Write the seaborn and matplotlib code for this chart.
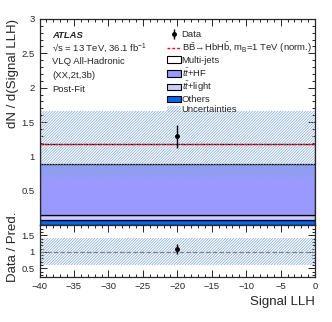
import numpy as np
import pandas as pd
import matplotlib
matplotlib.use("Agg")
import matplotlib.pyplot as plt
import seaborn as sns
from matplotlib.patches import Patch
from matplotlib.lines import Line2D

# single bin, signal LLH
bin_edges = [-40, 0]
bin_center = -20

processes = ["Multi-jets", "$t\\bar{t}$+HF", "$t\\bar{t}$+light", "Others"]
yields = [0.29, 0.74, 0.08, 0.07]
colors = ["white", "#9999ff", "#ccccff", "#0a64f0"]

rel_unc = 0.41
data_val = 1.29
data_err = 0.17

sns.set_style("ticks")
plt.rcParams["font.family"] = ["Liberation Sans", "DejaVu Sans"]
plt.rcParams["mathtext.fontset"] = "custom"
plt.rcParams["mathtext.rm"] = "Liberation Sans"
plt.rcParams["mathtext.it"] = "Liberation Sans:italic"
plt.rcParams["hatch.linewidth"] = 0.5
hatch_col = "#80a8d8"
hatch = "/" * 12

df = pd.DataFrame({"x": [bin_center] * len(processes), "w": yields, "proc": processes})
total = sum(yields)
signal_norm = total

fig = plt.figure(figsize=(3.32, 3.22), dpi=100)
ax = fig.add_axes([0.119, 0.301, 0.830, 0.640])
rax = fig.add_axes([0.119, 0.140, 0.830, 0.161], sharex=ax)

sns.histplot(data=df, x="x", weights="w", hue="proc", hue_order=processes,
             multiple="stack", bins=bin_edges, palette=colors, alpha=1,
             edgecolor="black", linewidth=0.9, legend=False, ax=ax)

# uncertainty band
ax.fill_between(bin_edges, total * (1 - rel_unc), total * (1 + rel_unc), step="post",
                facecolor="none", edgecolor=hatch_col, hatch=hatch, linewidth=0)
ax.plot(bin_edges, [signal_norm, signal_norm], color="red", ls=(0, (2, 1.5)), lw=1)
data_h = ax.errorbar([bin_center], [data_val], yerr=[data_err], fmt="o", color="black",
                     ms=2.5, elinewidth=1, capsize=0)

ax.set_xlim(-40, 0)
ax.set_ylim(0, 3)
ax.set_ylabel("dN / d(Signal LLH)", fontsize=9.5, loc="top")
ax.yaxis.set_label_coords(-0.074, 1.0)
ax.set_xlabel("")
ax.tick_params(labelbottom=False)

# text block
tkw = dict(transform=ax.transAxes, fontsize=6.8, va="center")
ax.text(0.045, 0.922, "ATLAS", fontweight="bold", fontstyle="italic", **tkw)
ax.text(0.045, 0.858, "\u221as = 13 TeV, 36.1 fb$^{-1}$", **tkw)
ax.text(0.045, 0.792, "VLQ All-Hadronic", **tkw)
ax.text(0.045, 0.724, "(XX,2t,3b)", **tkw)
ax.text(0.045, 0.656, "Post-Fit", **tkw)

handles = [
    data_h,
    Line2D([], [], color="red", ls=(0, (2, 1.5)), lw=1),
    Patch(facecolor=colors[0], edgecolor="black", lw=0.8),
    Patch(facecolor=colors[1], edgecolor="black", lw=0.8),
    Patch(facecolor=colors[2], edgecolor="black", lw=0.8),
    Patch(facecolor=colors[3], edgecolor="black", lw=0.8),
    Patch(facecolor="none", edgecolor=hatch_col, hatch=hatch, lw=0),
]
labels = ["Data", "B$\\bar{\\mathrm{B}}$\u2192HbH$\\bar{\\mathrm{b}}$, m$_\\mathrm{B}$=1 TeV (norm.)"] \
    + processes + ["Uncertainties"]
ax.legend(handles, labels, loc="upper left", bbox_to_anchor=(0.463, 0.945), frameon=False,
          fontsize=6.8, handlelength=1.45, handleheight=0.7, handletextpad=0.1,
          labelspacing=0.1, borderaxespad=0, borderpad=0)

# ratio panel
ratio = data_val / total
ratio_err = data_err / total
rax.fill_between(bin_edges, 1 - rel_unc, 1 + rel_unc, step="post",
                 facecolor="none", edgecolor=hatch_col, hatch=hatch, linewidth=0)
rax.axhline(1, color="gray", ls="--", lw=0.9)
rax.errorbar([bin_center], [ratio], yerr=[ratio_err], fmt="o", color="black",
             ms=2.5, elinewidth=1, capsize=0)
rax.set_ylim(0.24, 1.81)
rax.set_yticks([0.5, 1, 1.5])
rax.set_yticklabels(["0.5", "1", "1.5"])
rax.set_ylabel("Data / Pred.", fontsize=9.5)
rax.yaxis.set_label_coords(-0.074, 0.59)
rax.set_xlabel("Signal LLH", fontsize=9.5, loc="right")
rax.set_xticks(np.arange(-40, 1, 5))

for a in (ax, rax):
    a.minorticks_on()
    a.tick_params(which="both", direction="in", top=True, right=True, labelsize=6.8, width=0.7)
    a.tick_params(which="major", length=5)
    a.tick_params(which="minor", length=2.5)
    for s in a.spines.values():
        s.set_linewidth(0.9)
ax.yaxis.set_major_locator(plt.MultipleLocator(0.5))
ax.yaxis.set_minor_locator(plt.MultipleLocator(0.1))
ax.set_yticks([0.5, 1, 1.5, 2, 2.5, 3])
ax.set_yticklabels(["0.5", "1", "1.5", "2", "2.5", "3"])
rax.yaxis.set_minor_locator(plt.MultipleLocator(0.1))
rax.xaxis.set_minor_locator(plt.MultipleLocator(1))

fig.savefig("out.png", dpi=100)
